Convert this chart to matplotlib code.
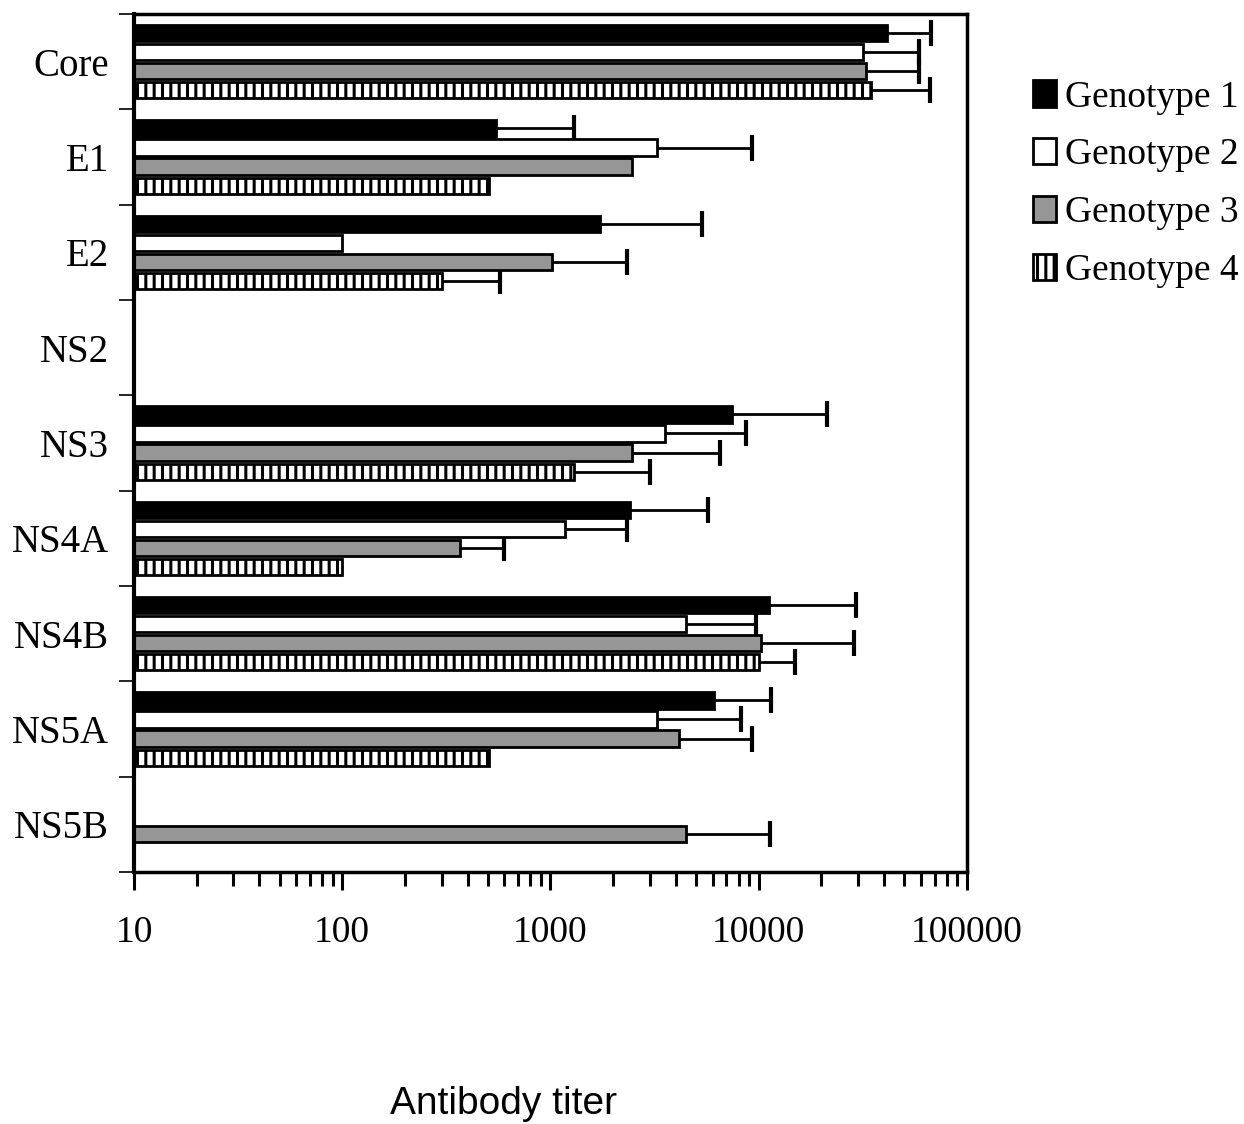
import matplotlib
matplotlib.use("Agg")
import matplotlib.pyplot as plt
import numpy as np

# antigen categories (top to bottom)
categories = ["Core", "E1", "E2", "NS2", "NS3", "NS4A", "NS4B", "NS5A", "NS5B"]
genotypes = ["Genotype 1", "Genotype 2", "Genotype 3", "Genotype 4"]

# mean antibody titer per genotype (nan = no bar)
g1 = [41300, 550, 1720, np.nan, 7460, 2420, 11200, 6120, np.nan]
g2 = [31700, 3260, 100, np.nan, 3560, 1170, 4490, 3260, np.nan]
g3 = [32800, 2470, 1020, np.nan, 2470, 366, 10200, 4160, 4490]
g4 = [34700, 505, 300, np.nan, 1300, 100, 10000, 505, np.nan]

# upper end of the error bars (nan = no error bar)
g1_hi = [67100, 1300, 5360, np.nan, 21300, 5730, 29400, 11500, np.nan]
g2_hi = [58900, 9300, np.nan, np.nan, 8710, 2320, 9730, 8240, np.nan]
g3_hi = [58900, np.nan, 2320, np.nan, 6530, 596, 28700, 9300, 11350]
g4_hi = [66500, np.nan, 575, np.nan, 3020, np.nan, 14960, np.nan, np.nan]

plt.rcParams["font.family"] = ["Liberation Serif", "DejaVu Serif"]
plt.rcParams["hatch.linewidth"] = 2.2

fig = plt.figure(figsize=(12.44, 11.24), dpi=100)
ax = fig.add_axes([0.1077, 0.2242, 0.6696, 0.7633])

series = [g1, g2, g3, g4]
highs = [g1_hi, g2_hi, g3_hi, g4_hi]
faces = ["black", "white", "#969696", "white"]
hatches = [None, None, None, "||"]
offsets = [-0.3, -0.1, 0.1, 0.3]
base = 10

y = np.arange(len(categories))
for vals, hi, fc, h, off, name in zip(series, highs, faces, hatches, offsets, genotypes):
    vals = np.array(vals, dtype=float)
    hi = np.array(hi, dtype=float)
    ax.barh(y + off, vals - base, left=base, height=0.17, color=fc,
            edgecolor="black", linewidth=2, hatch=h, label=name, zorder=2)
    # one-sided error bars: line to the right with a cap at the end only
    ok = ~np.isnan(hi) & ~np.isnan(vals)
    ax.hlines((y + off)[ok], vals[ok], hi[ok], color="black", lw=2, zorder=1)
    ax.plot(hi[ok], (y + off)[ok], ls="none", marker="|", ms=19,
            mew=3, color="black", zorder=1)

ax.set_xscale("log")
ax.set_xlim(10, 100000)
ax.set_ylim(len(categories) - 0.5, -0.5)

ax.set_yticks(y)
ax.set_yticklabels(categories, fontsize=28)
ax.set_yticks(np.arange(len(categories) + 1) - 0.5, minor=True)
ax.tick_params(axis="y", which="major", length=0, pad=18)
ax.tick_params(axis="y", which="minor", length=11, width=1.2)

ax.set_xticks([10, 100, 1000, 10000, 100000])
ax.set_xticklabels(["10", "100", "1000", "10000", "100000"], fontsize=27)
ax.tick_params(axis="x", which="major", length=13, width=2.2, pad=18)
ax.tick_params(axis="x", which="minor", length=10, width=2.2)

for side in ["top", "right", "bottom"]:
    ax.spines[side].set_linewidth(2.5)
ax.spines["left"].set_linewidth(3)

fig.legend(loc="upper left", bbox_to_anchor=(0.818, 0.942), frameon=False,
           fontsize=27, handlelength=0.62, handleheight=0.7,
           handletextpad=0.25, labelspacing=0.62, borderaxespad=0)

fig.text(0.405, 0.002, "Antibody titer", fontsize=28,
         family=["Liberation Sans", "DejaVu Sans"], ha="center", va="bottom")

fig.savefig("out.png", dpi=100)
